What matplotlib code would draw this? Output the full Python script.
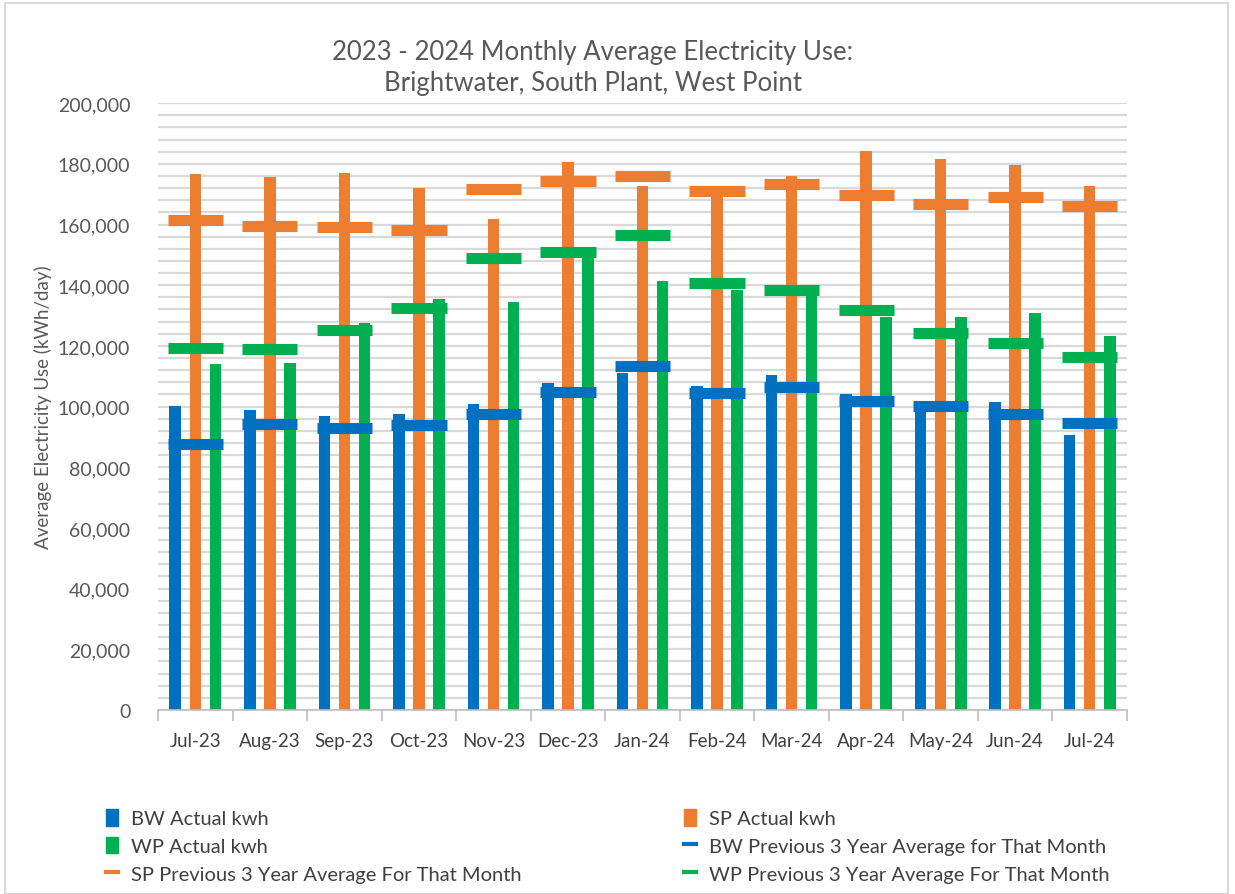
import numpy as np
import matplotlib.pyplot as plt
import matplotlib.ticker as mticker
from matplotlib.patches import Patch, Rectangle
from matplotlib.lines import Line2D

plt.rcParams['font.family'] = ['Lato', 'DejaVu Sans']

months = ['Jul-23', 'Aug-23', 'Sep-23', 'Oct-23', 'Nov-23', 'Dec-23', 'Jan-24',
          'Feb-24', 'Mar-24', 'Apr-24', 'May-24', 'Jun-24', 'Jul-24']

bw_actual = [100100, 98800, 96800, 97700, 101000, 107800, 111000,
             106700, 110500, 104000, 101700, 101400, 90700]
sp_actual = [176600, 175600, 177000, 171900, 161700, 180600, 172700,
             169000, 176000, 184300, 181600, 179600, 172800]
wp_actual = [113900, 114400, 127500, 135600, 134400, 150000, 141400,
             138500, 137500, 129400, 129500, 131000, 123100]

bw_avg = [87800, 94400, 93000, 94000, 97700, 104700, 113300,
          104500, 106400, 101700, 100300, 97600, 94500]
sp_avg = [161500, 159500, 159100, 158100, 171800, 174300, 176000,
          170900, 173400, 169600, 166900, 169200, 166000]
wp_avg = [119200, 119000, 125200, 132500, 149000, 150900, 156700,
          140600, 138300, 131900, 124400, 121000, 116400]

c_bw = '#0070C0'
c_sp = '#ED7D31'
c_wp = '#00B050'
txt = '#595959'

fig = plt.figure(figsize=(12.35, 8.95), dpi=100)
ax = fig.add_axes([0.128, 0.2056, 0.7845, 0.678])

x = np.arange(len(months))
w = 0.155
off = 0.27

ax.bar(x - off, bw_actual, w, color=c_bw, zorder=2)
ax.bar(x, sp_actual, w, color=c_sp, zorder=2)
ax.bar(x + off, wp_actual, w, color=c_wp, zorder=2)

half = 0.37
for vals, col in [(bw_avg, c_bw), (sp_avg, c_sp), (wp_avg, c_wp)]:
    ax.hlines(vals, x - half, x + half, colors=col, linewidth=8, zorder=3)

ax.set_xlim(-0.5, len(months) - 0.5)
ax.set_ylim(0, 200000)
ax.yaxis.set_major_locator(mticker.MultipleLocator(20000))
ax.yaxis.set_minor_locator(mticker.MultipleLocator(4000))
ax.yaxis.set_major_formatter(mticker.FuncFormatter(lambda v, p: f'{int(v):,}'))
ax.grid(axis='y', which='both', color='#d9d9d9', linewidth=1.6, zorder=0)
ax.set_axisbelow(True)

ax.set_xticks(x)
ax.set_xticklabels(months)
ax.set_xticks(np.arange(-0.5, len(months)), minor=True)
ax.tick_params(axis='x', which='major', length=0, pad=16, labelsize=13.5, labelcolor='#404040')
ax.tick_params(axis='x', which='minor', length=8, color='#bfbfbf', width=1.2)
ax.tick_params(axis='y', which='both', length=0, labelsize=14, labelcolor=txt, pad=20)

for s in ['top', 'right', 'left']:
    ax.spines[s].set_visible(False)
ax.spines['bottom'].set_color('#bfbfbf')
ax.spines['bottom'].set_linewidth(1.2)

ax.set_ylabel('Average Electricity Use (kWh/day)', fontsize=13.5, color=txt)
ax.yaxis.set_label_coords(-0.11, 0.5)

fig.text(0.48, 0.955, '2023 - 2024 Monthly Average Electricity Use:\nBrightwater, South Plant, West Point',
         ha='center', va='top', fontsize=18.5, color=txt, linespacing=1.3)

h_bw = Patch(color=c_bw)
h_sp = Patch(color=c_sp)
h_wp = Patch(color=c_wp)
l_bw = Line2D([], [], color=c_bw, linewidth=3)
l_sp = Line2D([], [], color=c_sp, linewidth=3)
l_wp = Line2D([], [], color=c_wp, linewidth=3)

leg_kw = dict(frameon=False, fontsize=14.5, labelcolor='#404040', handlelength=0.6,
              handleheight=0.9, handletextpad=0.6, labelspacing=0.48, borderpad=0)
leg1 = fig.legend([h_bw, h_wp, l_sp],
                  ['BW Actual kwh', 'WP Actual kwh', 'SP Previous 3 Year Average For That Month'],
                  loc='lower left', bbox_to_anchor=(0.078, 0.001), **leg_kw)
fig.legend([h_sp, l_bw, l_wp],
           ['SP Actual kwh', 'BW Previous 3 Year Average for That Month',
            'WP Previous 3 Year Average For That Month'],
           loc='lower left', bbox_to_anchor=(0.546, 0.001), **leg_kw)

fig.patches.append(Rectangle((0.004, 0.0), 0.99, 0.995, transform=fig.transFigure,
                             fill=False, edgecolor='#d9d9d9', linewidth=1.5))

fig.savefig('out.png', dpi=100)
